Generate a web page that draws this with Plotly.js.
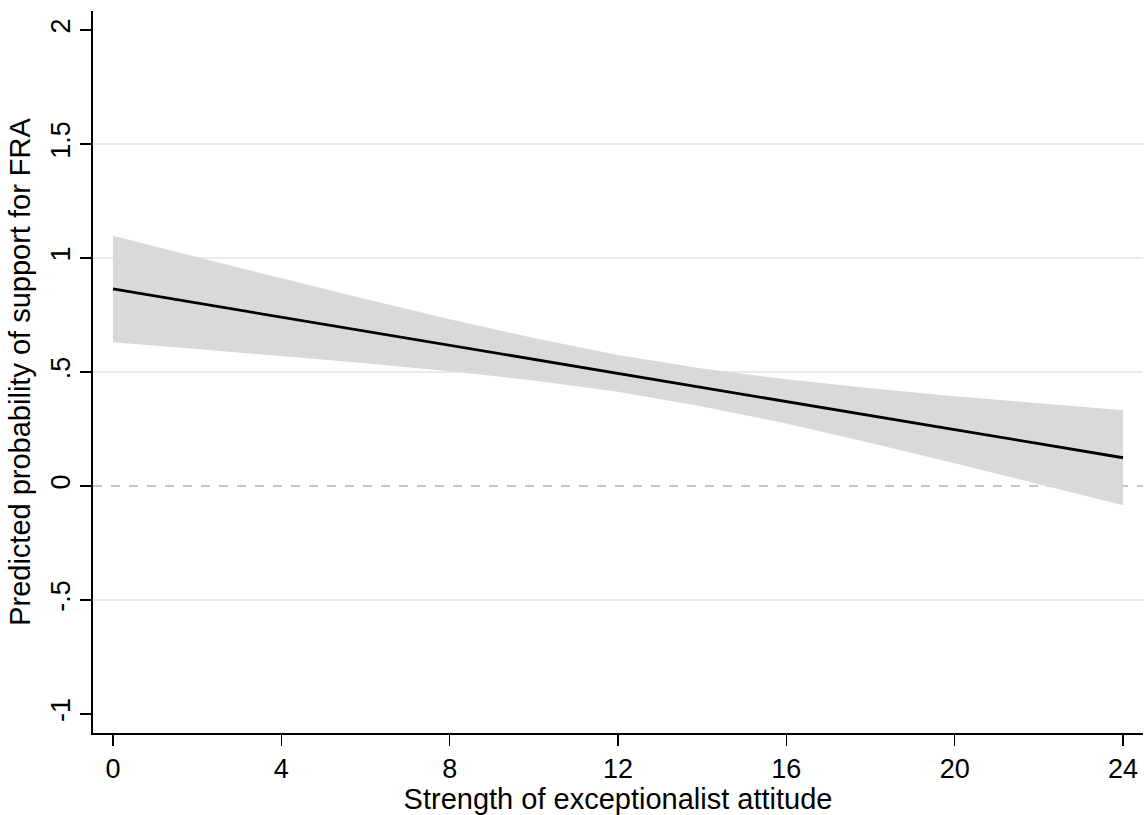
<!DOCTYPE html>
<html>
<head>
<meta charset="utf-8">
<script src="https://cdn.plot.ly/plotly-3.0.1.min.js"></script>
<style>html,body{margin:0;padding:0;background:#fff;}#chart{width:1146px;height:815px;}</style>
</head>
<body>
<div id="chart"></div>
<script>
// Strength of exceptionalist attitude (x)
const attitude = [0, 2, 4, 6, 8, 10, 12, 14, 16, 18, 20, 22, 24];
// Predicted probability (point estimate)
const predicted = [0.864, 0.802, 0.741, 0.679, 0.617, 0.556, 0.494, 0.432, 0.371, 0.309, 0.247, 0.186, 0.124];
// 95% confidence bounds
const ciUpper = [1.097, 1.003, 0.911, 0.820, 0.731, 0.649, 0.575, 0.515, 0.468, 0.429, 0.394, 0.363, 0.332];
const ciLower = [0.631, 0.601, 0.571, 0.538, 0.503, 0.463, 0.413, 0.349, 0.274, 0.189, 0.100, 0.009, -0.084];
// Axis ticks
const xTicks = [0, 4, 8, 12, 16, 20, 24];
const yTicks = [-1, -0.5, 0, 0.5, 1, 1.5, 2];
const yTickText = ["-1", "-.5", "0", ".5", "1", "1.5", "2"];
const gridValues = [-0.5, 0.5, 1, 1.5];
const refLine = 0;

const FONT = "Liberation Sans, Arial, Helvetica, sans-serif";

const bandX = attitude.concat(attitude.slice().reverse());
const bandY = ciUpper.concat(ciLower.slice().reverse());

const traces = [
  {
    x: bandX, y: bandY, type: "scatter", mode: "lines",
    fill: "toself", fillcolor: "#d9d9d9",
    line: {width: 0, color: "#d9d9d9"},
    hoverinfo: "skip", showlegend: false
  },
  {
    x: attitude, y: predicted, type: "scatter", mode: "lines",
    line: {color: "#000000", width: 2.8},
    showlegend: false
  }
];

const shapes = gridValues.map(v => ({
  type: "line", xref: "paper", yref: "y", x0: 0, x1: 1, y0: v, y1: v,
  line: {color: "#eaeaea", width: 2}, layer: "below"
}));
shapes.push({
  type: "line", xref: "paper", yref: "y", x0: 0, x1: 1, y0: refLine, y1: refLine,
  line: {color: "#8c8c8c", width: 1.2, dash: "dash"}, layer: "below"
});

const layout = {
  width: 1146, height: 815,
  margin: {l: 93, r: 3, t: 11, b: 82},
  paper_bgcolor: "#ffffff", plot_bgcolor: "#ffffff",
  font: {family: FONT, color: "#000000", size: 27},
  showlegend: false,
  xaxis: {
    range: [-0.475, 24.475],
    tickvals: xTicks,
    ticks: "outside", ticklen: 11, tickwidth: 1.5, tickcolor: "#000",
    showline: true, linecolor: "#000", linewidth: 1.6,
    showgrid: false, zeroline: false,
    tickfont: {family: FONT, size: 27},
    title: {text: "Strength of exceptionalist attitude", font: {family: FONT, size: 29}, standoff: 5}
  },
  yaxis: {
    range: [-1.083, 2.083],
    tickvals: yTicks, ticktext: yTickText, tickangle: -90,
    ticks: "outside", ticklen: 11, tickwidth: 1.5, tickcolor: "#000",
    showline: true, linecolor: "#000", linewidth: 1.6,
    showgrid: false, zeroline: false,
    tickfont: {family: FONT, size: 27},
    title: {text: "Predicted probability of support for FRA", font: {family: FONT, size: 29}, standoff: 6}
  },
  shapes: shapes
};

Plotly.newPlot("chart", traces, layout, {displayModeBar: false, staticPlot: true});
</script>
</body>
</html>
